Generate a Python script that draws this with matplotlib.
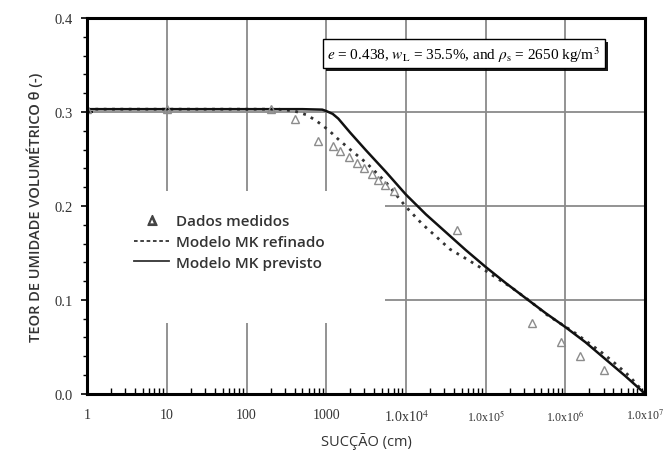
import numpy as np
import matplotlib
matplotlib.use("Agg")
import matplotlib.pyplot as plt
import matplotlib.patheffects as pe
from matplotlib.patches import Rectangle
from matplotlib.lines import Line2D
from matplotlib.ticker import FixedLocator, FixedFormatter, NullFormatter, MultipleLocator

plt.rcParams['mathtext.fontset'] = 'stix'

# measured data (suction in cm, volumetric water content)
suc_med = [1, 10, 200, 400, 790, 1200, 1500, 1900, 2400, 3000, 3700, 4500, 5500, 7000,
           4.4e4, 3.8e5, 8.9e5, 1.5e6, 3.0e6]
theta_med = [0.303, 0.303, 0.303, 0.293, 0.269, 0.264, 0.258, 0.252, 0.246, 0.240, 0.234,
             0.228, 0.222, 0.216, 0.174, 0.075, 0.055, 0.040, 0.025]

# MK model, refined (dotted) - log10 of suction
log_ref = [0, 2.4, 2.6, 2.75, 2.85, 2.95, 3.05, 3.15, 3.3, 3.5, 3.75, 4.0, 4.2, 4.37, 4.55,
           4.77, 5.0, 5.16, 5.31, 5.55, 5.77, 6.1, 6.44, 6.6, 6.8, 7.0]
theta_ref = [0.303, 0.303, 0.301, 0.297, 0.292, 0.286, 0.279, 0.271, 0.260, 0.246, 0.225,
             0.199, 0.181, 0.168, 0.154, 0.143, 0.131, 0.122, 0.114, 0.099, 0.084, 0.066,
             0.045, 0.034, 0.019, 0.0]

# MK model, predicted (solid)
log_prev = [0, 2.7, 2.95, 3.0, 3.08, 3.15, 3.22, 3.3, 3.5, 3.75, 4.0, 4.25, 4.5, 4.75, 5.0,
            5.25, 5.53, 5.75, 6.0, 6.25, 6.5, 6.75, 7.0]
theta_prev = [0.303, 0.303, 0.3025, 0.301, 0.298, 0.293, 0.286, 0.278, 0.259, 0.236, 0.212,
              0.191, 0.172, 0.153, 0.135, 0.118, 0.100, 0.086, 0.071, 0.055, 0.037, 0.019, 0.0]

xticks = [1, 10, 100, 1000, 1e4, 1e5, 1e6, 1e7]
xlabels = ['1', '10', '100', '1000', r'1.0x10$^{4}$', r'1.0x10$^{5}$', r'1.0x10$^{6}$', r'1.0x10$^{7}$']
yticks = [0.0, 0.1, 0.2, 0.3, 0.4]

fig = plt.figure(figsize=(6.7, 4.64), dpi=100)
ax = fig.add_axes([0.130, 0.149, 0.833, 0.810])

ax.set_xscale('log')
ax.set_xlim(1, 1e7)
ax.set_ylim(0, 0.4)

ax.set_axisbelow(True)
ax.grid(True, which='major', color='#8a8a8a', lw=1.3)

# white box behind the legend hides the grid there
ax.add_patch(Rectangle((0, 0.189), 0.534, 0.351, transform=ax.transAxes,
                       facecolor='white', edgecolor='none', zorder=1))

ax.plot(10 ** np.array(log_ref), theta_ref, color='#333333', lw=2.0,
        linestyle=(0, (1, 2)), zorder=3)
ax.plot(10 ** np.array(log_prev), theta_prev, color='#111111', lw=1.8, zorder=3)
ax.plot(suc_med, theta_med, linestyle='none', marker='^', markersize=6,
        markerfacecolor='none', markeredgecolor='#8c8c8c', markeredgewidth=1.0, zorder=4)

# ticks
ax.xaxis.set_major_locator(FixedLocator(xticks))
ax.xaxis.set_major_formatter(FixedFormatter(xlabels))
ax.xaxis.set_minor_formatter(NullFormatter())
ax.yaxis.set_major_locator(FixedLocator(yticks))
ax.yaxis.set_minor_locator(MultipleLocator(0.02))
ax.set_yticklabels(['0.0', '0.1', '0.2', '0.3', '0.4'])
ax.tick_params(axis='x', which='major', length=0, pad=10, labelsize=10, labelcolor='#333333')
ax.tick_params(axis='x', which='minor', direction='in', length=4, width=1)
ax.tick_params(axis='y', which='major', direction='inout', length=9, width=1.2, pad=6,
               labelsize=10.5, labelcolor='#333333')
ax.tick_params(axis='y', which='minor', direction='out', length=3, width=1)
for lab in ax.get_xticklabels() + ax.get_yticklabels():
    lab.set_fontfamily('Liberation Serif')
for i, t in enumerate(ax.xaxis.get_major_ticks()):
    if i >= 5:
        t.label1.set_fontsize(8.5)

for s in ax.spines.values():
    s.set_linewidth(2.2)
    s.set_color('black')
    s.set_zorder(5)

ax.set_ylabel('TEOR DE UMIDADE VOLUMÉTRICO θ (-)', fontfamily='Open Sans', fontweight='semibold',
              fontsize=10.5, color='#333333', labelpad=8)
ax.set_xlabel('SUCÇÃO (cm)', fontfamily='Open Sans', fontsize=10.5, color='#333333', labelpad=6)

# legend
handles = [Line2D([], [], linestyle='none', marker=r'$\Delta$', markersize=7, color='#444444'),
           Line2D([], [], linestyle=(0, (2, 1.5)), color='#333333', lw=1.3),
           Line2D([], [], linestyle='-', color='#333333', lw=1.3)]
labels = ['Dados medidos', 'Modelo MK refinado', 'Modelo MK previsto']
leg = ax.legend(handles, labels, loc='upper left', bbox_to_anchor=(0.06, 0.515),
                frameon=False, handlelength=2.3, handletextpad=0.4, labelspacing=0.45,
                prop={'family': 'Open Sans', 'weight': 'semibold', 'size': 11})
for txt in leg.get_texts():
    txt.set_color('#333333')
leg.set_zorder(6)

# parameter box
t = ax.text(0.675, 0.905, r'$e$ = 0.438, $w_\mathrm{L}$ = 35.5%, and $\rho_\mathrm{s}$ = 2650 kg/m$^3$',
            transform=ax.transAxes, ha='center', va='center', fontsize=11,
            fontfamily='Liberation Serif', zorder=6,
            bbox=dict(boxstyle='square,pad=0.3', facecolor='white', edgecolor='black', lw=1.0))
t.get_bbox_patch().set_path_effects([pe.SimplePatchShadow(offset=(2, -2), shadow_rgbFace='black', alpha=0.9),
                                     pe.Normal()])

fig.savefig('out.png', dpi=100)
